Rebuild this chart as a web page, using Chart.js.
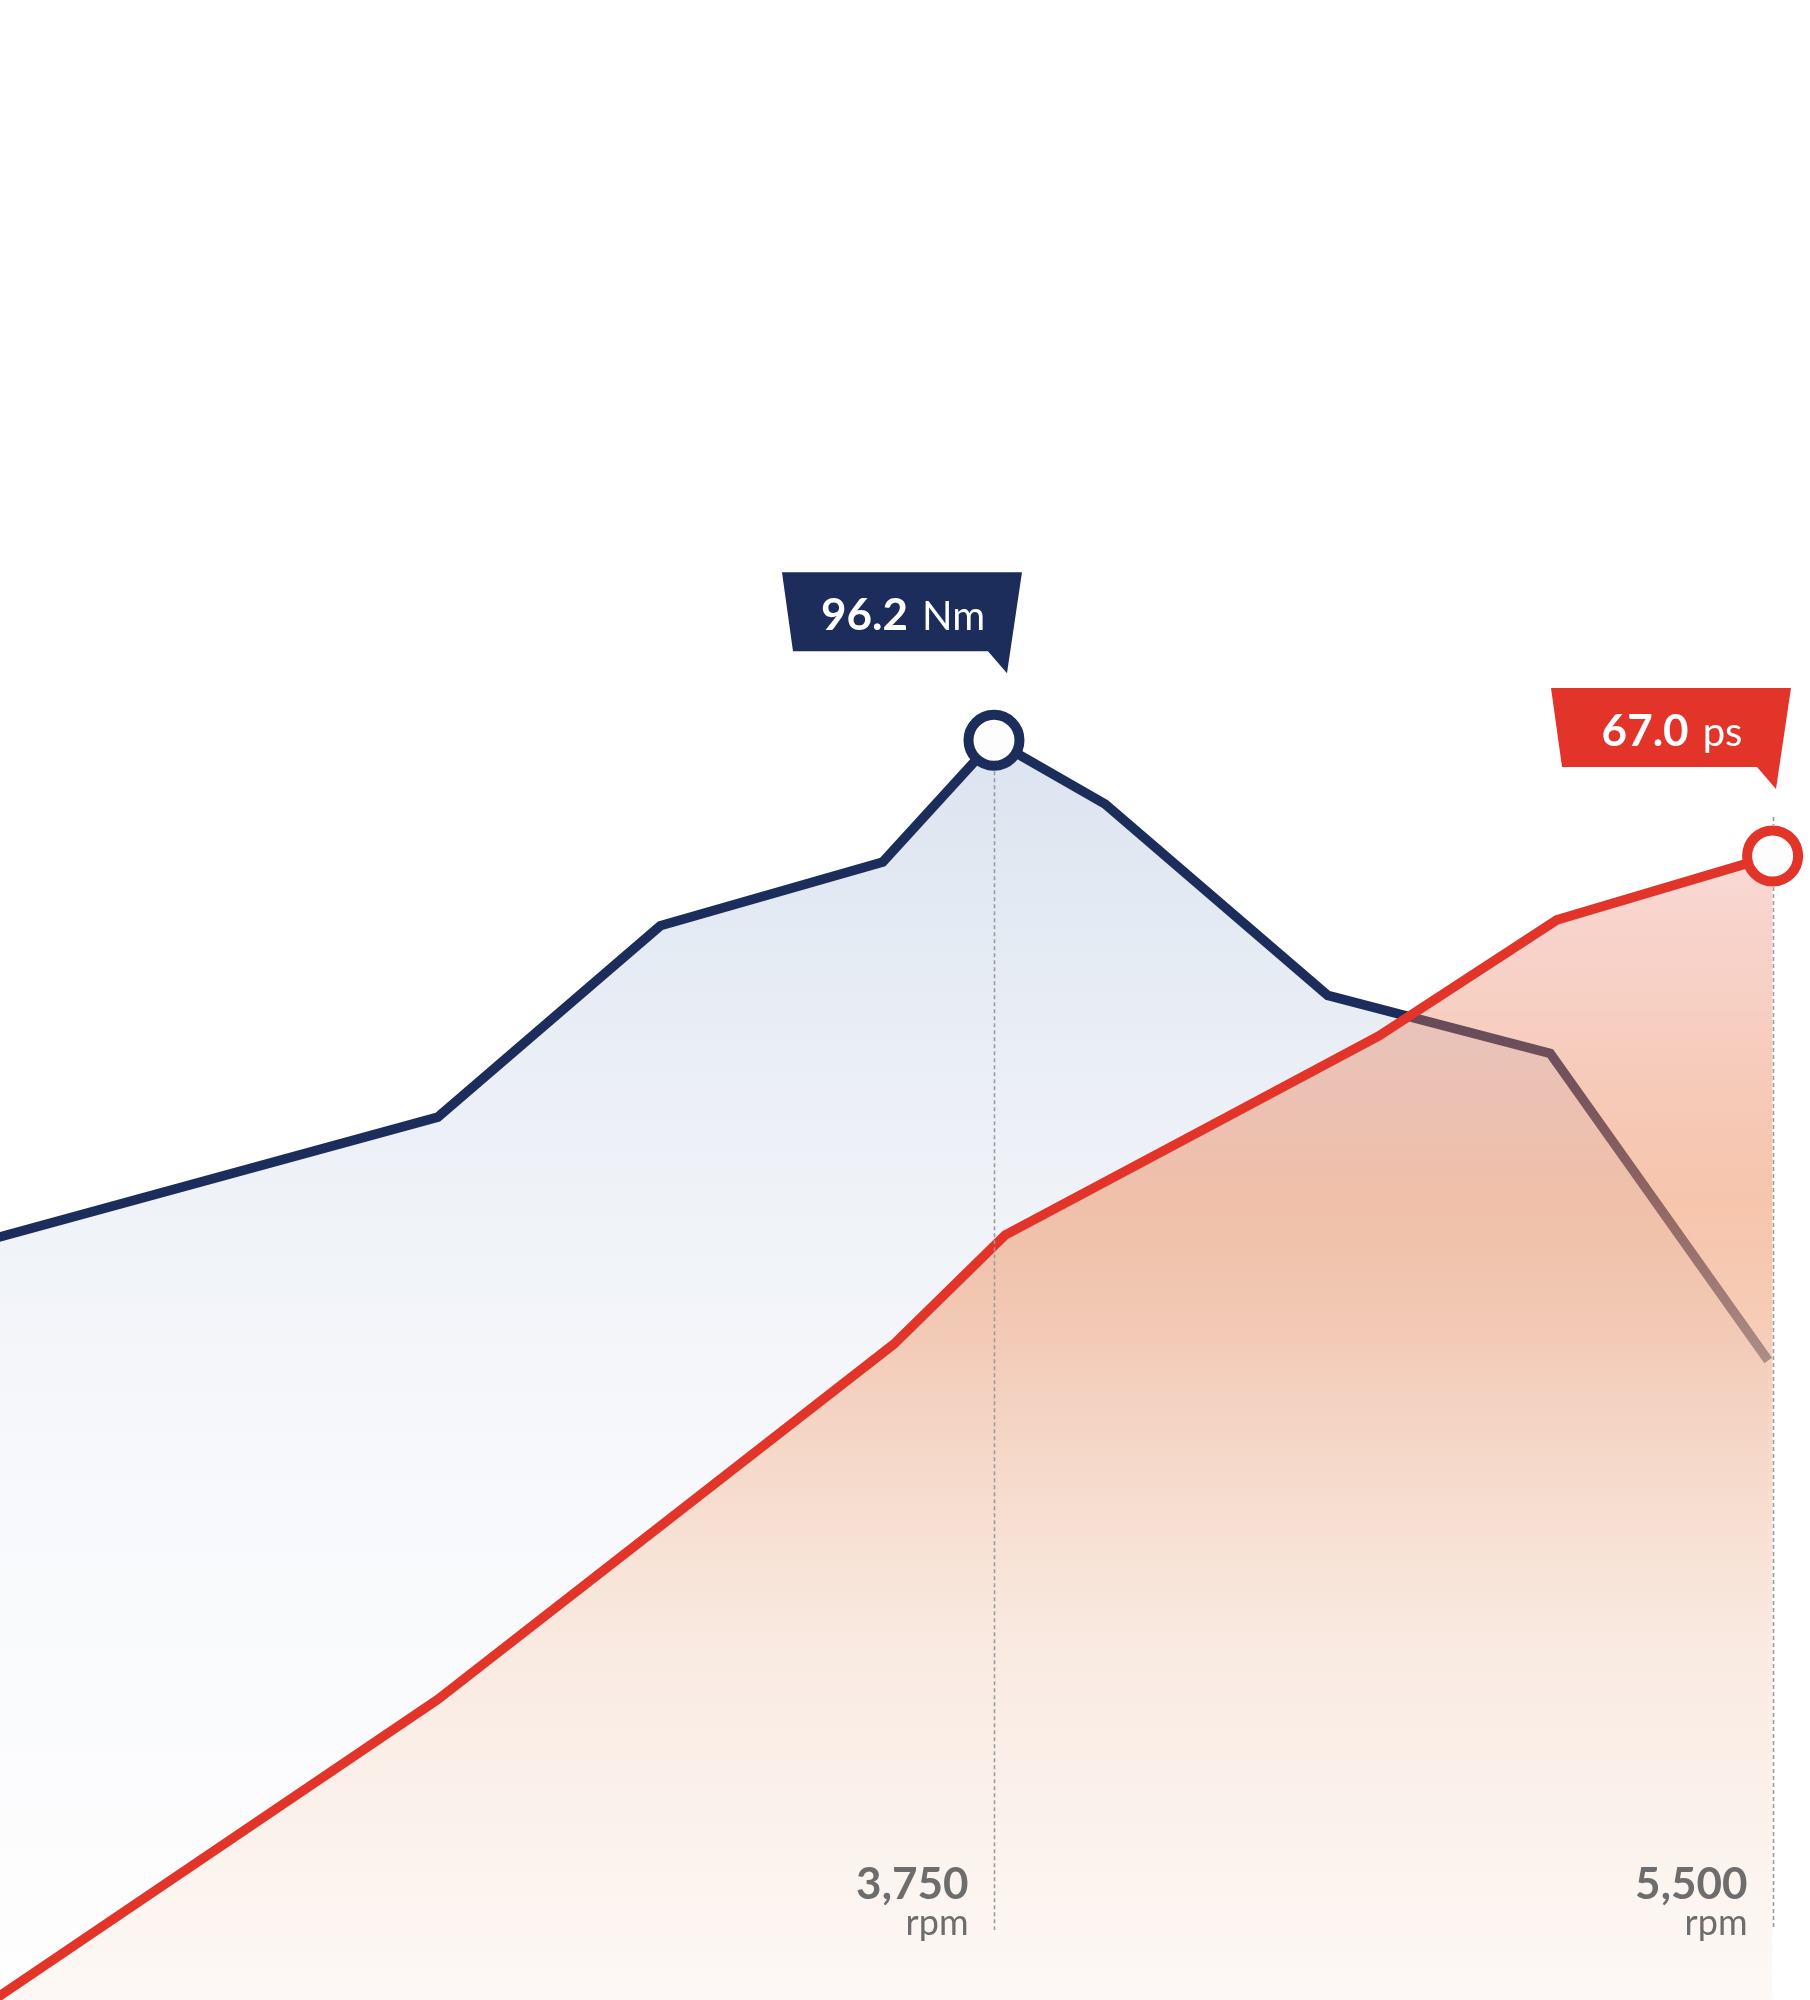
<!DOCTYPE html>
<html>
<head>
<meta charset="utf-8">
<title>Torque / power curve</title>
<script src="https://cdn.jsdelivr.net/npm/chart.js@4.4.1/dist/chart.umd.min.js"></script>
<style>
  html, body { margin: 0; padding: 0; background: #ffffff; }
  #wrap { width: 1810px; height: 2000px; }
</style>
</head>
<body>
<div id="wrap"><canvas id="engineChart" width="1810" height="2000"></canvas></div>
<script>
// --- Data ---
const torqueRpm = [1500, 2500, 3000, 3500, 3750, 4000, 4500, 5000, 5490];
const torqueNm  = [87.6, 89.7, 93.0, 94.1, 96.2, 95.1, 91.8, 90.8, 85.5];

const powerRpm = [1500, 2500, 3525, 3775, 4275, 4615, 5015, 5500];
const powerPs  = [18.7, 31.4, 46.4, 51.0, 56.0, 59.4, 64.3, 67.0];

const peakValues = ['96.2', '67.0'];
const peakUnits  = ['Nm', 'ps'];
const peakIndex  = [4, 7];            // torque peak, power peak

const rpmTicks      = [3750, 5500];
const rpmTickLabels = ['3,750', '5,500'];

// --- Style ---
const NAVY = '#1c2d5b';
const RED = '#e3342a';
const GREY_TEXT = '#6d6d6d';
const FONT = 'Lato, "Open Sans", sans-serif';

function torqueFill(context) {
  const area = context.chart.chartArea;
  if (!area) return '#e6ebf3';
  const g = context.chart.ctx.createLinearGradient(0, area.top, 0, area.bottom);
  g.addColorStop(0.37, '#dce4f0');
  g.addColorStop(0.55, '#ecf0f6');
  g.addColorStop(0.75, '#f8f9fc');
  g.addColorStop(1, '#fefefe');
  return g;
}

function powerFill(context) {
  const area = context.chart.chartArea;
  if (!area) return 'rgba(236,150,115,0.5)';
  const g = context.chart.ctx.createLinearGradient(0, area.top, 0, area.bottom);
  g.addColorStop(0.428, 'rgba(228,70,50,0.2)');
  g.addColorStop(0.5, 'rgba(232,121,86,0.35)');
  g.addColorStop(0.6, 'rgba(240,150,105,0.55)');
  g.addColorStop(0.68, 'rgba(242,186,156,0.68)');
  g.addColorStop(0.825, 'rgba(249,218,198,0.5)');
  g.addColorStop(1, 'rgba(252,240,232,0.4)');
  return g;
}

function markerRadii(count, idx) {
  return Array.from({ length: count }, (_, i) => (i === idx ? 25.5 : 0));
}

// --- Overlay: guides, rpm labels, callouts ---
const guideRise = [0, 39];

function drawCallout(ctx, px, py, value, unit, color) {
  const w = 240, h = 79, slant = 11;
  const top = py - 168;
  let left = px - 212;
  if (left + w > ctx.canvas.width - 19) left = ctx.canvas.width - 19 - w;
  const right = left + w;

  ctx.save();
  ctx.fillStyle = color;
  ctx.beginPath();
  ctx.moveTo(left, top);
  ctx.lineTo(right, top);
  ctx.lineTo(right - 15, top + 101);
  ctx.lineTo(right - 34, top + h);
  ctx.lineTo(left + slant, top + h);
  ctx.closePath();
  ctx.fill();

  ctx.fillStyle = '#ffffff';
  ctx.textBaseline = 'alphabetic';
  ctx.font = 'bold 44px ' + FONT;
  const wv = ctx.measureText(value).width;
  ctx.font = '40px ' + FONT;
  const wu = ctx.measureText(unit).width;
  const gap = 14;
  const start = left + w / 2 + 1 - (wv + gap + wu) / 2;
  ctx.textAlign = 'left';
  ctx.font = 'bold 44px ' + FONT;
  ctx.fillText(value, start, top + 58);
  ctx.font = '40px ' + FONT;
  ctx.fillText(unit, start + wv + gap, top + 58);
  ctx.restore();
}

const overlayPlugin = {
  id: 'engineOverlay',
  afterDatasetsDraw(chart) {
    const { ctx, chartArea } = chart;
    const bottom = chartArea.bottom;
    const metas = [chart.getDatasetMeta(0), chart.getDatasetMeta(1)];
    const colors = [NAVY, RED];

    rpmTicks.forEach((rpm, i) => {
      const pt = metas[i].data[peakIndex[i]];
      const gx = Math.round(chart.scales.x.getPixelForValue(rpm)) + 0.5;
      const outer = 31;

      ctx.save();
      ctx.strokeStyle = '#9c9c9c';
      ctx.lineWidth = 1.6;
      ctx.setLineDash([4, 3]);
      ctx.beginPath();
      if (guideRise[i] > outer) {
        ctx.moveTo(gx, pt.y - guideRise[i]);
        ctx.lineTo(gx, pt.y - outer);
      }
      ctx.moveTo(gx, pt.y + outer);
      ctx.lineTo(gx, bottom - 70);
      ctx.stroke();
      ctx.restore();

      ctx.save();
      ctx.fillStyle = GREY_TEXT;
      ctx.textAlign = 'right';
      ctx.textBaseline = 'alphabetic';
      ctx.font = 'bold 44px ' + FONT;
      ctx.fillText(rpmTickLabels[i], gx - 26, bottom - 101);
      ctx.font = '36px ' + FONT;
      ctx.fillText('rpm', gx - 26, bottom - 65);
      ctx.restore();

      drawCallout(ctx, pt.x, pt.y, peakValues[i], peakUnits[i], colors[i]);
    });
  }
};

// --- Chart ---
const ctx = document.getElementById('engineChart').getContext('2d');

new Chart(ctx, {
  type: 'line',
  data: {
    datasets: [
      {
        label: 'Torque (Nm)',
        data: torqueRpm.map((r, i) => ({ x: r, y: torqueNm[i] })),
        yAxisID: 'yTorque',
        order: 2,
        borderColor: NAVY,
        borderWidth: 9.5,
        borderJoinStyle: 'miter',
        backgroundColor: torqueFill,
        fill: 'start',
        tension: 0,
        pointRadius: markerRadii(torqueRpm.length, peakIndex[0]),
        pointBorderWidth: 10,
        pointBorderColor: NAVY,
        pointBackgroundColor: '#fdfdfd'
      },
      {
        label: 'Power (ps)',
        data: powerRpm.map((r, i) => ({ x: r, y: powerPs[i] })),
        yAxisID: 'yPower',
        order: 1,
        borderColor: RED,
        borderWidth: 9.5,
        borderJoinStyle: 'miter',
        backgroundColor: powerFill,
        fill: 'start',
        tension: 0,
        pointRadius: markerRadii(powerRpm.length, peakIndex[1]),
        pointBorderWidth: 10,
        pointBorderColor: RED,
        pointBackgroundColor: '#fdfdfd'
      }
    ]
  },
  options: {
    responsive: false,
    animation: false,
    events: [],
    devicePixelRatio: 1,
    layout: { padding: 0, autoPadding: false },
    plugins: {
      legend: { display: false },
      tooltip: { enabled: false }
    },
    scales: {
      x: { type: 'linear', min: 1516, max: 5584, display: false },
      yTorque: { type: 'linear', position: 'left', min: 74.47, max: 108.97, display: false },
      yPower: { type: 'linear', position: 'right', min: 18.72, max: 103.12, display: false }
    }
  },
  plugins: [overlayPlugin]
});
</script>
</body>
</html>
